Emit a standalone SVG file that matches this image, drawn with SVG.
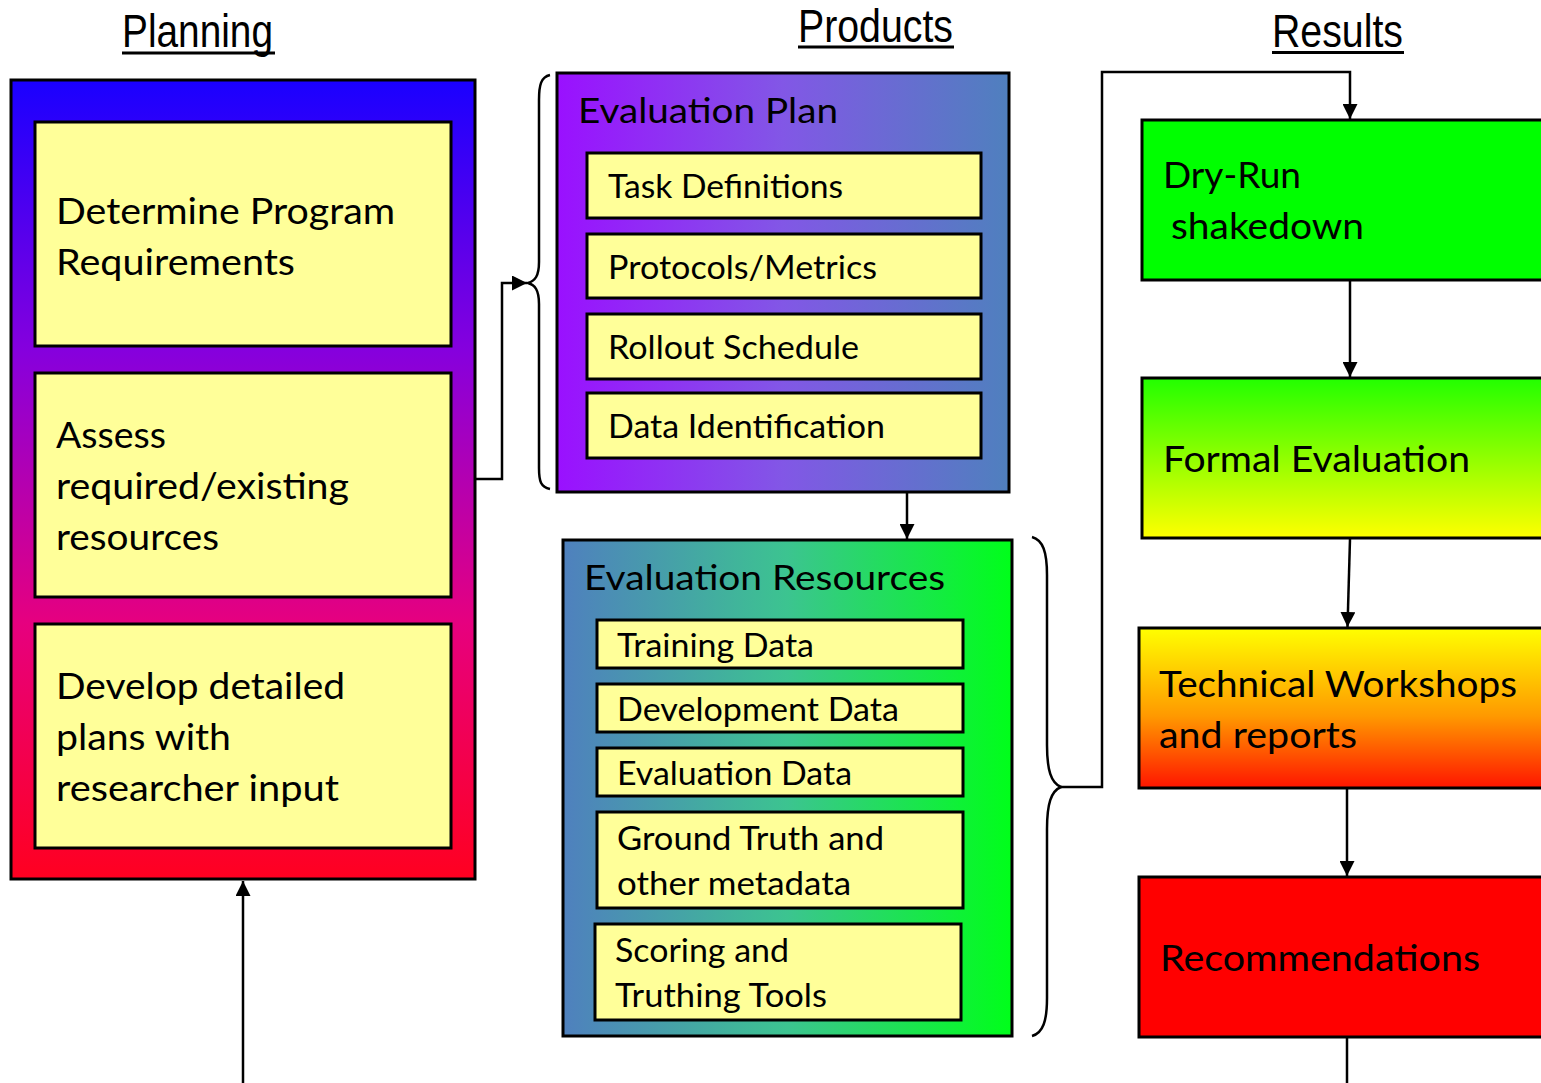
<svg xmlns="http://www.w3.org/2000/svg" width="1541" height="1083" viewBox="0 0 1541 1083">
  <style>
    .hdr { font-family: "Liberation Sans", Arial, sans-serif; font-size: 47px; fill: #000; }
    .ul { stroke: #000; stroke-width: 3; }
    .frame { stroke: #000; stroke-width: 3; }
    .item { fill: #ffff99; stroke: #000; stroke-width: 3; }
    .t { font-family: Lato, "Open Sans", sans-serif; fill: #000; }
    .big { font-size: 37px; }
    .mid { font-size: 35px; }
    .sm { font-size: 32px; }
    .conn { fill: none; stroke: #000; stroke-width: 2.5; }
  </style>
  <defs>
    <linearGradient id="gPlan" x1="0" y1="0" x2="0" y2="1">
      <stop offset="0" stop-color="#1a00ff"/>
      <stop offset="0.34" stop-color="#8600dd"/>
      <stop offset="0.68" stop-color="#e6007f"/>
      <stop offset="1" stop-color="#ff0020"/>
    </linearGradient>
    <linearGradient id="gEvalPlan" x1="0" y1="0" x2="1" y2="0">
      <stop offset="0" stop-color="#9a10ff"/>
      <stop offset="0.5" stop-color="#8257e6"/>
      <stop offset="1" stop-color="#4f80be"/>
    </linearGradient>
    <linearGradient id="gEvalRes" x1="0" y1="0" x2="1" y2="0">
      <stop offset="0" stop-color="#4f80be"/>
      <stop offset="0.5" stop-color="#3cc490"/>
      <stop offset="1" stop-color="#00ff1a"/>
    </linearGradient>
    <linearGradient id="gFormal" x1="0" y1="0" x2="0" y2="1">
      <stop offset="0" stop-color="#22ff00"/>
      <stop offset="1" stop-color="#ffff00"/>
    </linearGradient>
    <linearGradient id="gTech" x1="0" y1="0" x2="0" y2="1">
      <stop offset="0" stop-color="#ffff00"/>
      <stop offset="0.55" stop-color="#ff9900"/>
      <stop offset="1" stop-color="#ff1500"/>
    </linearGradient>
    <marker id="arrow" viewBox="0 0 10 10" refX="10" refY="5" markerWidth="6" markerHeight="6" markerUnits="strokeWidth" orient="auto">
      <path d="M0,0 L10,5 L0,10 Z" fill="#000"/>
    </marker>
  </defs>

  <!-- column headings -->
  <g id="headings">
    <text class="hdr" x="122" y="47" textLength="151" lengthAdjust="spacingAndGlyphs">Planning</text>
    <line class="ul" x1="122" y1="53" x2="275" y2="53"/>
    <text class="hdr" x="798" y="42" font-size="46" textLength="155" lengthAdjust="spacingAndGlyphs">Products</text>
    <line class="ul" x1="798" y1="47" x2="954" y2="47"/>
    <text class="hdr" x="1272" y="47" textLength="131" lengthAdjust="spacingAndGlyphs">Results</text>
    <line class="ul" x1="1272" y1="52.5" x2="1404" y2="52.5"/>
  </g>

  <!-- Planning column -->
  <g id="planning">
    <rect class="frame" x="11" y="80" width="464" height="799" fill="url(#gPlan)"/>
    <g id="plan-requirements">
      <rect class="item" x="35" y="122" width="416" height="224"/>
      <text class="t big" x="56" y="224" textLength="339" lengthAdjust="spacingAndGlyphs">Determine Program</text>
      <text class="t big" x="56" y="275" textLength="239" lengthAdjust="spacingAndGlyphs">Requirements</text>
    </g>
    <g id="plan-resources">
      <rect class="item" x="35" y="373" width="416" height="224"/>
      <text class="t big" x="56" y="448" textLength="110" lengthAdjust="spacingAndGlyphs">Assess</text>
      <text class="t big" x="56" y="499" textLength="293" lengthAdjust="spacingAndGlyphs">required/existing</text>
      <text class="t big" x="56" y="550" textLength="163" lengthAdjust="spacingAndGlyphs">resources</text>
    </g>
    <g id="plan-detailed">
      <rect class="item" x="35" y="624" width="416" height="224"/>
      <text class="t big" x="56" y="699" textLength="289" lengthAdjust="spacingAndGlyphs">Develop detailed</text>
      <text class="t big" x="56" y="750" textLength="175" lengthAdjust="spacingAndGlyphs">plans with</text>
      <text class="t big" x="56" y="801" textLength="283" lengthAdjust="spacingAndGlyphs">researcher input</text>
    </g>
  </g>

  <!-- Evaluation Plan -->
  <g id="evaluation-plan">
    <rect class="frame" x="557" y="73" width="452" height="419" fill="url(#gEvalPlan)"/>
    <text class="t mid" x="578" y="123" textLength="260" lengthAdjust="spacingAndGlyphs">Evaluation Plan</text>
    <g id="task-definitions">
      <rect class="item" x="587" y="153" width="394" height="65"/>
      <text class="t sm" x="608" y="198" textLength="235" lengthAdjust="spacingAndGlyphs">Task Definitions</text>
    </g>
    <g id="protocols-metrics">
      <rect class="item" x="587" y="234" width="394" height="64"/>
      <text class="t sm" x="608" y="279" textLength="269" lengthAdjust="spacingAndGlyphs">Protocols/Metrics</text>
    </g>
    <g id="rollout-schedule">
      <rect class="item" x="587" y="314" width="394" height="65"/>
      <text class="t sm" x="608" y="359" textLength="251" lengthAdjust="spacingAndGlyphs">Rollout Schedule</text>
    </g>
    <g id="data-identification">
      <rect class="item" x="587" y="393" width="394" height="65"/>
      <text class="t sm" x="608" y="438" textLength="277" lengthAdjust="spacingAndGlyphs">Data Identification</text>
    </g>
  </g>

  <!-- Evaluation Resources -->
  <g id="evaluation-resources">
    <rect class="frame" x="563" y="540" width="449" height="496" fill="url(#gEvalRes)"/>
    <text class="t mid" x="584" y="590" textLength="361" lengthAdjust="spacingAndGlyphs">Evaluation Resources</text>
    <g id="training-data">
      <rect class="item" x="597" y="620" width="366" height="48"/>
      <text class="t sm" x="617" y="657" textLength="197" lengthAdjust="spacingAndGlyphs">Training Data</text>
    </g>
    <g id="development-data">
      <rect class="item" x="597" y="684" width="366" height="48"/>
      <text class="t sm" x="617" y="721" textLength="282" lengthAdjust="spacingAndGlyphs">Development Data</text>
    </g>
    <g id="evaluation-data">
      <rect class="item" x="597" y="748" width="366" height="48"/>
      <text class="t sm" x="617" y="785" textLength="235" lengthAdjust="spacingAndGlyphs">Evaluation Data</text>
    </g>
    <g id="ground-truth">
      <rect class="item" x="597" y="812" width="366" height="96"/>
      <text class="t sm" x="617" y="850" textLength="267" lengthAdjust="spacingAndGlyphs">Ground Truth and</text>
      <text class="t sm" x="617" y="895" textLength="234" lengthAdjust="spacingAndGlyphs">other metadata</text>
    </g>
    <g id="scoring-tools">
      <rect class="item" x="595" y="924" width="366" height="96"/>
      <text class="t sm" x="615" y="962" textLength="174" lengthAdjust="spacingAndGlyphs">Scoring and</text>
      <text class="t sm" x="615" y="1007" textLength="212" lengthAdjust="spacingAndGlyphs">Truthing Tools</text>
    </g>
  </g>

  <!-- Results column -->
  <g id="dry-run">
    <rect class="frame" x="1142" y="120" width="410" height="160" fill="#00ff00"/>
    <text class="t big" x="1163" y="188" textLength="138" lengthAdjust="spacingAndGlyphs">Dry-Run</text>
    <text class="t big" x="1171" y="239" textLength="193" lengthAdjust="spacingAndGlyphs">shakedown</text>
  </g>
  <g id="formal-evaluation">
    <rect class="frame" x="1142" y="378" width="410" height="160" fill="url(#gFormal)"/>
    <text class="t big" x="1163" y="472" textLength="307" lengthAdjust="spacingAndGlyphs">Formal Evaluation</text>
  </g>
  <g id="technical-workshops">
    <rect class="frame" x="1139" y="628" width="413" height="160" fill="url(#gTech)"/>
    <text class="t big" x="1159" y="697" textLength="358" lengthAdjust="spacingAndGlyphs">Technical Workshops</text>
    <text class="t big" x="1159" y="748" textLength="198" lengthAdjust="spacingAndGlyphs">and reports</text>
  </g>
  <g id="recommendations">
    <rect class="frame" x="1139" y="877" width="413" height="160" fill="#ff0000"/>
    <text class="t big" x="1160" y="971" textLength="320" lengthAdjust="spacingAndGlyphs">Recommendations</text>
  </g>

  <!-- connectors and braces -->
  <g id="connectors">
    <!-- brace grouping the evaluation plan -->
    <path class="conn" d="M550,75 C541,77 539,85 539,100 L539,262 C539,276 535,281 528,283 C535,285 539,290 539,304 L539,468 C539,482 541,487 550,489"/>
    <!-- brace grouping the evaluation resources -->
    <path class="conn" d="M1032,537 C1043,540 1047,552 1047,575 L1047,745 C1047,770 1051,783 1061,787 C1051,791 1047,804 1047,829 L1047,998 C1047,1021 1043,1033 1032,1036"/>
    <!-- planning to products -->
    <path class="conn" d="M476,479 H502 V283 H527" marker-end="url(#arrow)"/>
    <!-- plan to resources -->
    <path class="conn" d="M907,493 V539" marker-end="url(#arrow)"/>
    <!-- resources to dry run -->
    <path class="conn" d="M1061,787 H1102 V72 H1350 V119" marker-end="url(#arrow)"/>
    <!-- results chain -->
    <path class="conn" d="M1350,281 V377" marker-end="url(#arrow)"/>
    <path class="conn" d="M1350,539 L1347.5,627" marker-end="url(#arrow)"/>
    <path class="conn" d="M1347,789 V876" marker-end="url(#arrow)"/>
    <path class="conn" d="M1347,1038 V1083"/>
    <!-- feedback into planning -->
    <path class="conn" d="M243,1083 V881" marker-end="url(#arrow)"/>
  </g>
</svg>
